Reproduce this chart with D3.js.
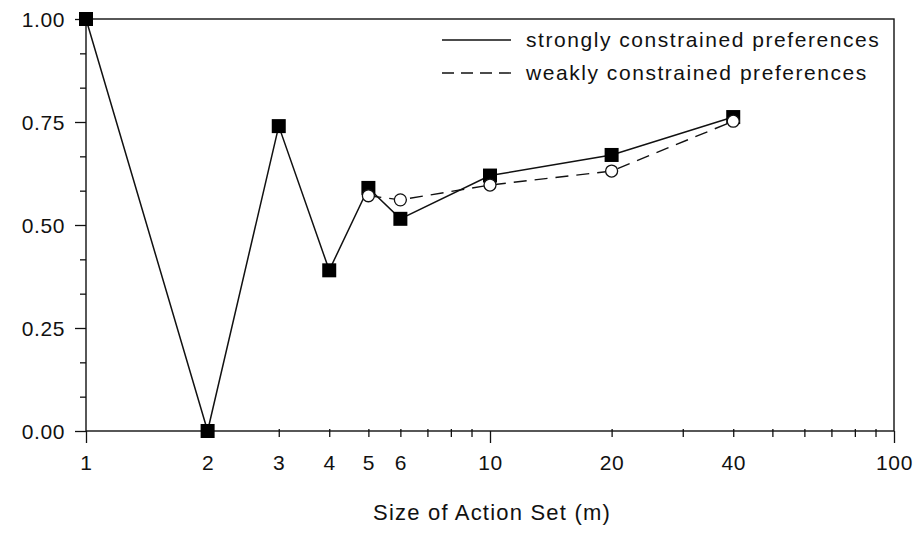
<!DOCTYPE html>
<html>
<head>
<meta charset="utf-8">
<script src="https://cdn.jsdelivr.net/npm/d3@7"></script>
<style>
  body { margin: 0; background: #fff; }
  text { font-family: "Liberation Sans", Arial, Helvetica, sans-serif; fill: #111; }
</style>
</head>
<body>
<div id="vis"></div>
<script>
// Constants
const W = 916, H = 546;
const margin = { top: 19, right: 22, bottom: 115, left: 86 };
const width = W - margin.left - margin.right;
const height = H - margin.top - margin.bottom;

// Data
const strongX = [1, 2, 3, 4, 5, 6, 10, 20, 40];
const strongY = [1.00, 0.00, 0.74, 0.39, 0.59, 0.515, 0.62, 0.67, 0.762];
const weakX = [5, 6, 10, 20, 40];
const weakY = [0.571, 0.561, 0.597, 0.631, 0.752];

const xTicks = [1, 2, 3, 4, 5, 6, 7, 8, 9, 10, 20, 30, 40, 50, 60, 70, 80, 90, 100];
const xLabeled = [1, 2, 3, 4, 5, 6, 10, 20, 40, 100];
const xMajor = [1, 10, 100];
const yTicks = d3.range(0, 13).map(k => k / 12);
const yLabels = ['0.00', '0.25', '0.50', '0.75', '1.00'];

const legendNames = ['strongly constrained preferences', 'weakly constrained preferences'];

const svg = d3.select('#vis')
    .append('svg')
    .attr('width', W)
    .attr('height', H)
    .append('g')
    .attr('transform', `translate(${margin.left},${margin.top})`);

const xScale = d3.scaleLog().domain([1, 100]).range([0, width]);
const yScale = d3.scaleLinear().domain([0, 1]).range([height, 0]);

// x axis
const xAxis = svg.append('g')
    .attr('transform', `translate(0,${height})`)
    .call(d3.axisBottom(xScale)
        .tickValues(xTicks)
        .tickSize(6)
        .tickPadding(0)
        .tickFormat(d => xLabeled.includes(d) ? d : ''));
xAxis.select('.domain').remove();
xAxis.selectAll('.tick line')
    .attr('y1', d => xMajor.includes(d) ? 0 : -2)
    .attr('y2', d => xMajor.includes(d) ? 12 : 6)
    .attr('stroke', '#111')
    .attr('stroke-width', 1.3);
xAxis.selectAll('.tick text')
    .attr('y', 39)
    .attr('dy', 0)
    .style('font-size', '21px')
    .style('letter-spacing', '0.6px');

// y axis
const yAxis = svg.append('g')
    .call(d3.axisLeft(yScale)
        .tickValues(yTicks)
        .tickSize(6)
        .tickFormat((d, i) => i % 3 === 0 ? yLabels[i / 3] : ''));
yAxis.select('.domain').remove();
yAxis.selectAll('.tick line')
    .attr('x2', (d, i) => i % 3 === 0 ? -11 : -6)
    .attr('stroke', '#111')
    .attr('stroke-width', 1.3);
yAxis.selectAll('.tick text')
    .attr('x', -21)
    .attr('dy', '0.36em')
    .style('font-size', '21px')
    .style('letter-spacing', '0.6px');

// frame
svg.append('rect')
    .attr('width', width)
    .attr('height', height)
    .attr('fill', 'none')
    .attr('stroke', '#111')
    .attr('stroke-width', 1.4);

// x label
svg.append('text')
    .attr('x', width / 2 + 2)
    .attr('y', height + 89)
    .attr('text-anchor', 'middle')
    .style('font-size', '22px')
    .style('letter-spacing', '1.2px')
    .text('Size of Action Set (m)');

// lines
const line = d3.line()
    .x(d => xScale(d[0]))
    .y(d => yScale(d[1]));

const strong = strongX.map((x, i) => [x, strongY[i]]);
const weak = weakX.map((x, i) => [x, weakY[i]]);

svg.append('path')
    .datum(weak)
    .attr('d', line)
    .attr('fill', 'none')
    .attr('stroke', '#111')
    .attr('stroke-width', 1.4)
    .attr('stroke-dasharray', '13,8');

svg.append('path')
    .datum(strong)
    .attr('d', line)
    .attr('fill', 'none')
    .attr('stroke', '#111')
    .attr('stroke-width', 1.5);

svg.selectAll('.sq')
    .data(strong)
    .join('rect')
    .attr('class', 'sq')
    .attr('x', d => xScale(d[0]) - 7)
    .attr('y', d => yScale(d[1]) - 7)
    .attr('width', 14)
    .attr('height', 14)
    .attr('fill', '#000');

svg.selectAll('.ci')
    .data(weak)
    .join('circle')
    .attr('class', 'ci')
    .attr('cx', d => xScale(d[0]))
    .attr('cy', d => yScale(d[1]))
    .attr('r', 6)
    .attr('fill', '#fff')
    .attr('stroke', '#111')
    .attr('stroke-width', 1.3);

// legend
const legend = svg.append('g')
    .attr('transform', `translate(${442 - margin.left},${40 - margin.top})`);

legendNames.forEach((name, i) => {
    legend.append('line')
        .attr('x1', 0)
        .attr('x2', 69)
        .attr('y1', i * 33)
        .attr('y2', i * 33)
        .attr('stroke', '#111')
        .attr('stroke-width', 1.4)
        .attr('stroke-dasharray', i === 0 ? null : '12,7');
    legend.append('text')
        .attr('x', 84)
        .attr('y', i * 33 + 7)
        .style('font-size', '21px')
        .style('letter-spacing', '1.55px')
        .text(name);
});
</script>
</body>
</html>
